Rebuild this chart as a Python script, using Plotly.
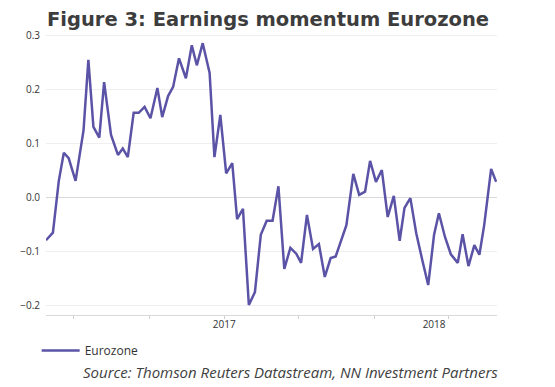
import plotly.graph_objects as go

# Time (decimal years) and earnings momentum values
years = [2016.150, 2016.183, 2016.211, 2016.235, 2016.258, 2016.291, 2016.329, 2016.352,
         2016.376, 2016.404, 2016.427, 2016.460, 2016.493, 2016.516, 2016.540, 2016.568,
         2016.592, 2016.620, 2016.648, 2016.681, 2016.704, 2016.732, 2016.756, 2016.784,
         2016.817, 2016.845, 2016.869, 2016.897, 2016.930, 2016.953, 2016.981, 2017.009,
         2017.038, 2017.061, 2017.089, 2017.117, 2017.146, 2017.174, 2017.202, 2017.230,
         2017.258, 2017.286, 2017.315, 2017.343, 2017.366, 2017.394, 2017.423, 2017.451,
         2017.479, 2017.507, 2017.531, 2017.559, 2017.582, 2017.615, 2017.643, 2017.671,
         2017.695, 2017.723, 2017.751, 2017.779, 2017.808, 2017.836, 2017.859, 2017.887,
         2017.915, 2017.944, 2017.972, 2018.000, 2018.023, 2018.052, 2018.080, 2018.113,
         2018.136, 2018.164, 2018.192, 2018.216, 2018.239, 2018.272, 2018.296]
eurozone = [-0.080, -0.066, 0.030, 0.082, 0.072, 0.030, 0.124, 0.254,
            0.130, 0.110, 0.213, 0.115, 0.078, 0.090, 0.074, 0.156,
            0.156, 0.167, 0.146, 0.202, 0.148, 0.187, 0.204, 0.257,
            0.220, 0.281, 0.244, 0.285, 0.230, 0.074, 0.152, 0.044,
            0.063, -0.041, -0.022, -0.200, -0.176, -0.070, -0.044, -0.044,
            0.020, -0.133, -0.094, -0.105, -0.122, -0.033, -0.096, -0.087,
            -0.148, -0.113, -0.110, -0.080, -0.052, 0.043, 0.004, 0.010,
            0.067, 0.028, 0.050, -0.037, 0.002, -0.081, -0.020, -0.002,
            -0.067, -0.117, -0.163, -0.070, -0.030, -0.074, -0.106, -0.122,
            -0.069, -0.128, -0.089, -0.107, -0.052, 0.052, 0.028]

x_label_vals = [2017, 2018]
x_label_text = ["2017", "2018"]
x_tick_marks = [2016.282, 2016.643, 2017.0, 2017.352, 2017.714, 2018.070]
y_ticks = [-0.2, -0.1, 0.0, 0.1, 0.2, 0.3]

fig = go.Figure()
fig.add_trace(go.Scatter(
    x=years, y=eurozone, mode="lines", name="Eurozone",
    line=dict(color="#5a53a6", width=2.5),
))

fig.update_layout(
    width=555, height=387,
    margin=dict(l=31, r=66, t=26, b=80),
    paper_bgcolor="white", plot_bgcolor="white",
    font=dict(family="Open Sans", color="#404040"),
    title=dict(text="<b>Figure 3: Earnings momentum Eurozone</b>",
               x=0.0703, xanchor="left", y=0.9716, yanchor="middle",
               font=dict(family="DejaVu Sans", size=19.5, color="#3d3d3d")),
    showlegend=True,
    legend=dict(orientation="h", x=-0.0207, xanchor="left", y=-0.0744, yanchor="top",
                font=dict(size=12, color="#333333"), itemwidth=38,
                bgcolor="rgba(0,0,0,0)"),
    xaxis=dict(
        range=[2016.150, 2018.300],
        tickmode="array", tickvals=x_label_vals, ticktext=x_label_text,
        ticks="", showgrid=False, zeroline=False,
        showline=True, linecolor="#d9d9d9", linewidth=1,
        tickfont=dict(size=10, color="#333333"),
        minor=dict(tickmode="array", tickvals=x_tick_marks, ticks="outside",
                   ticklen=3, tickcolor="#d0d0d0", tickwidth=1, showgrid=False),
    ),
    yaxis=dict(
        range=[-0.2185, 0.302],
        tickmode="array", tickvals=y_ticks, tickformat=".1f",
        showgrid=True, gridcolor="#efefef", gridwidth=1,
        zeroline=True, zerolinecolor="#d9d9d9", zerolinewidth=1,
        showline=False, ticks="", ticklabelstandoff=5,
        tickfont=dict(size=10, color="#333333"),
    ),
)

fig.add_annotation(
    text="<i>Source: Thomson Reuters Datastream, NN Investment Partners</i>",
    xref="paper", yref="paper", x=0.078, xanchor="left", y=-0.203, yanchor="middle",
    showarrow=False, align="left",
    font=dict(family="Open Sans", size=15, color="#404040"),
)

fig.write_html("out.html")
